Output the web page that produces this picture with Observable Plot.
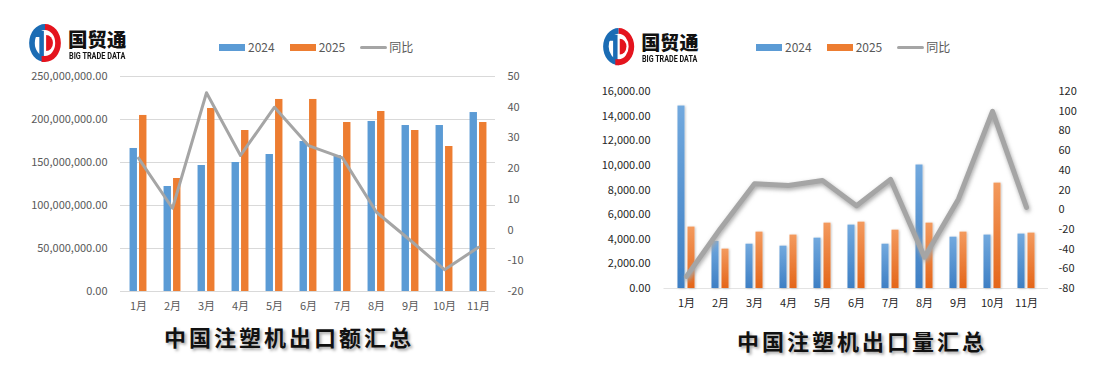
<!DOCTYPE html>
<html>
<head>
<meta charset="utf-8">
<script src="https://cdn.jsdelivr.net/npm/d3@7"></script>
<script src="https://cdn.jsdelivr.net/npm/@observablehq/plot@0.6"></script>
<style>
  body { margin: 0; background: #fff; }
  #root { position: relative; width: 1101px; height: 375px; overflow: hidden; background: #fff;
          font-family: "Noto Sans CJK SC", "Noto Sans", sans-serif; }
  .abs { position: absolute; }
  .abs svg { display: block; }
  .title { font-weight: bold; font-size: 22px; letter-spacing: 3px; color: #111; white-space: nowrap;
           text-shadow: 2px 2px 3px rgba(0,0,0,0.35); transform: translate(-50%, -50%); line-height: 1; }
  .legend { display: flex; align-items: center; font-size: 12px; color: #595959; white-space: nowrap;
            transform: translateY(-50%); line-height: 1; }
  .legend .sw { width: 26px; height: 7px; margin-right: 3px; }
  .legend .ln { width: 27px; height: 3px; margin-right: 2px; background: #A5A5A5; border-radius: 2px; }
  .legend .it { margin-right: 15px; }
  .brand { font-weight: 900; color: #111; line-height: 1; white-space: nowrap; }
  .brand2 { font-weight: bold; color: #111; line-height: 1; white-space: nowrap;
            font-family: "Roboto", "Noto Sans", sans-serif; transform-origin: 0 0; }
</style>
</head>
<body>
<div id="root"></div>
<script>
// ---------------- data ----------------
const months = ["1月", "2月", "3月", "4月", "5月", "6月", "7月", "8月", "9月", "10月", "11月"];
const seriesNames = ["2024", "2025", "同比"];

// 中国注塑机出口额 (value)
const value2024 = [166.3e6, 122.1e6, 146.5e6, 150.0e6, 159.3e6, 174.4e6, 158.0e6, 197.7e6, 193.0e6, 193.0e6, 208.1e6];
const value2025 = [204.7e6, 131.4e6, 212.8e6, 187.2e6, 223.3e6, 223.3e6, 196.5e6, 209.3e6, 187.2e6, 168.6e6, 196.5e6];
const valueYoY  = [23.4, 7.1, 44.7, 24.3, 40.0, 27.5, 23.5, 5.8, -3.4, -12.9, -5.6];

// 中国注塑机出口量 (volume)
const volume2024 = [14820, 3820, 3600, 3440, 4090, 5150, 3600, 10030, 4170, 4340, 4420];
const volume2025 = [4990, 3200, 4580, 4340, 5310, 5390, 4740, 5310, 4580, 8560, 4500];
const volumeYoY  = [-67.7, -19.0, 26.3, 24.6, 29.7, 4.1, 30.8, -48.2, 10.9, 99.8, 2.4];

// axis ticks
const valueTicks  = [0, 50e6, 100e6, 150e6, 200e6, 250e6];
const valueYoYTicks = [-20, -10, 0, 10, 20, 30, 40, 50];
const volumeTicks = [0, 2000, 4000, 6000, 8000, 10000, 12000, 14000, 16000];
const volumeYoYTicks = [-80, -60, -40, -20, 0, 20, 40, 60, 80, 100, 120];

const titles = ["中国注塑机出口额汇总", "中国注塑机出口量汇总"];

// ---------------- build tables ----------------
const tableValue = months.map((m, i) => ({month: m, a: value2024[i], b: value2025[i], yoy: valueYoY[i]}));
const tableVolume = months.map((m, i) => ({month: m, a: volume2024[i], b: volume2025[i], yoy: volumeYoY[i]}));

const fmt2 = d3.format(",.2f");
const root = document.getElementById("root");
const FONT = '"Noto Sans CJK SC", "Noto Sans", sans-serif';

function place(el, left, top) {
  const d = document.createElement("div");
  d.className = "abs";
  d.style.left = left + "px";
  d.style.top = top + "px";
  d.appendChild(el);
  root.appendChild(d);
  return d;
}

function makeChart(cfg) {
  const {left, width, height, ml, mr, mt, mb, data, yDomain, yTicks, y2Domain, y2Ticks,
         barW, gap, textColor, padL, padR, padX, blue, orange, lineW, fancy, grid} = cfg;
  const bw = (width - ml - mr) / months.length;
  const common = {width, height, marginLeft: ml, marginRight: mr, marginTop: mt, marginBottom: mb,
    style: {fontFamily: FONT, fontSize: "11px", color: textColor, background: "transparent", overflow: "visible"}};

  const marks = [];
  if (grid) marks.push(Plot.gridY(yTicks, {stroke: "#D9D9D9", strokeOpacity: 1, strokeWidth: 1}));
  else marks.push(Plot.ruleY([0], {stroke: "#E3E3E3", strokeWidth: 1}));
  marks.push(
    Plot.axisY(yTicks, {tickSize: 0, tickPadding: padL, tickFormat: fmt2, fill: textColor, fontSize: 11, label: null}),
    Plot.axisX({tickSize: 0, tickPadding: padX, fill: textColor, fontSize: 11, label: null}),
    Plot.barY(data, {x: "month", y: "a", fill: blue,
      insetLeft: bw / 2 - gap / 2 - barW, insetRight: bw / 2 + gap / 2}),
    Plot.barY(data, {x: "month", y: "b", fill: orange,
      insetLeft: bw / 2 + gap / 2, insetRight: bw / 2 - gap / 2 - barW})
  );
  const main = Plot.plot({
    ...common,
    x: {type: "band", domain: months, padding: 0, axis: null, label: null},
    y: {domain: yDomain, axis: null, label: null},
    marks
  });

  const over = Plot.plot({
    ...common,
    x: {type: "point", domain: months, padding: 0.5, axis: null, label: null},
    y: {domain: y2Domain, axis: null, label: null},
    marks: [
      Plot.axisY(y2Ticks, {anchor: "right", tickSize: 0, tickPadding: padR, fill: textColor, fontSize: 11,
        tickFormat: d => String(d), label: null}),
      Plot.line(data, {x: "month", y: "yoy", stroke: "#A5A5A5", strokeWidth: lineW,
        strokeLinejoin: "round", strokeLinecap: "round"})
    ]
  });

  if (fancy) {
    const id = "c" + left;
    const defs = d3.select(main).insert("defs", ":first-child");
    const g1 = defs.append("linearGradient").attr("id", id + "gb").attr("x1", 0).attr("y1", 0).attr("x2", 0).attr("y2", 1);
    g1.append("stop").attr("offset", "0%").attr("stop-color", "#72A9DE");
    g1.append("stop").attr("offset", "100%").attr("stop-color", "#3E7FC4");
    const g2 = defs.append("linearGradient").attr("id", id + "go").attr("x1", 0).attr("y1", 0).attr("x2", 0).attr("y2", 1);
    g2.append("stop").attr("offset", "0%").attr("stop-color", "#F39A5E");
    g2.append("stop").attr("offset", "100%").attr("stop-color", "#E4661A");
    const f = defs.append("filter").attr("id", id + "bs").attr("x", "-50%").attr("y", "-10%").attr("width", "200%").attr("height", "120%");
    f.append("feDropShadow").attr("dx", 1).attr("dy", 0.5).attr("stdDeviation", 1).attr("flood-color", "#000").attr("flood-opacity", 0.22);
    const bars = d3.select(main).selectAll('g[aria-label="bar"]');
    bars.each(function(_, i) {
      d3.select(this).attr("fill", i === 0 ? `url(#${id}gb)` : `url(#${id}go)`).attr("filter", `url(#${id}bs)`);
    });
    const defs2 = d3.select(over).insert("defs", ":first-child");
    const f2 = defs2.append("filter").attr("id", id + "ls").attr("x", "-10%").attr("y", "-20%").attr("width", "120%").attr("height", "140%");
    f2.append("feGaussianBlur").attr("in", "SourceGraphic").attr("stdDeviation", 2.2).attr("result", "bl");
    f2.append("feOffset").attr("in", "bl").attr("dx", 1).attr("dy", 1.5).attr("result", "of");
    const fm = f2.append("feMerge");
    fm.append("feMergeNode").attr("in", "of");
    fm.append("feMergeNode").attr("in", "SourceGraphic");
    d3.select(over).selectAll('g[aria-label="line"]').attr("filter", `url(#${id}ls)`);
  }

  place(main, left, 0);
  place(over, left, 0);
}

// left chart: value
makeChart({left: 0, width: 550, height: 375, ml: 120, mr: 55, mt: 76, mb: 84,
  data: tableValue, yDomain: [0, 250e6], yTicks: valueTicks, y2Domain: [-20, 50], y2Ticks: valueYoYTicks,
  barW: 7.5, gap: 2, textColor: "#595959", padL: 13, padR: 12, padX: 11,
  blue: "#5B9BD5", orange: "#ED7D31", lineW: 3, fancy: false, grid: true});

// right chart: volume
makeChart({left: 550, width: 551, height: 375, ml: 113.5, mr: 53, mt: 91, mb: 87,
  data: tableVolume, yDomain: [0, 16000], yTicks: volumeTicks, y2Domain: [-80, 120], y2Ticks: volumeYoYTicks,
  barW: 8, gap: 2, textColor: "#262626", padL: 13.5, padR: 10, padX: 11,
  blue: "#5B9BD5", orange: "#ED7D31", lineW: 5, fancy: true, grid: false});

// ---------------- titles ----------------
function addTitle(text, cx, cy) {
  const t = document.createElement("div");
  t.className = "title";
  t.textContent = text;
  place(t, cx, cy);
}
addTitle(titles[0], 289, 336);
addTitle(titles[1], 862, 340);

// ---------------- legends ----------------
function addLegend(x, y) {
  const lg = document.createElement("div");
  lg.className = "legend";
  lg.innerHTML =
    `<span class="sw" style="background:#5B9BD5"></span><span class="it">${seriesNames[0]}</span>` +
    `<span class="sw" style="background:#ED7D31"></span><span class="it">${seriesNames[1]}</span>` +
    `<span class="ln"></span><span>${seriesNames[2]}</span>`;
  place(lg, x, y);
}
addLegend(219, 47);
addLegend(756, 47);

// ---------------- logos ----------------
function addLogo(x, y, s) {
  const wrap = document.createElement("div");
  wrap.style.position = "relative";
  wrap.style.width = 105 * s + "px";
  wrap.style.height = 42 * s + "px";
  wrap.innerHTML =
    `<svg width="${34 * s}" height="${40 * s}" viewBox="0 0 30 40" preserveAspectRatio="none" style="position:absolute;left:0;top:0">
       <path d="M15,1 A14,19 0 0,0 15,39 L15,33 A9,13 0 0,1 15,7 Z" fill="#1B6CB4"/>
       <path d="M6,8 L6,14 L10,14 L10,32 L14,36 L14,8 Z" fill="#1B6CB4"/>
       <path d="M15,1 A14,19 0 0,1 15,39 L12,39 L12,33 L15,33 A9,13 0 0,0 15,7 L15,1 Z" fill="#E4141E"/>
       <path d="M16,12 A6,8 0 0,1 16,28 Z" fill="#E4141E"/>
     </svg>
     <div class="brand" style="position:absolute;left:${40 * s}px;top:${6 * s}px;font-size:${19.5 * s}px">国贸通</div>
     <div class="brand2" style="position:absolute;left:${41 * s}px;top:${29 * s}px;font-size:${8.5 * s}px;transform:scaleX(0.86)">BIG TRADE DATA</div>`;
  place(wrap, x, y);
}
addLogo(28, 23, 1);
addLogo(602, 27, 0.98);
</script>
</body>
</html>
